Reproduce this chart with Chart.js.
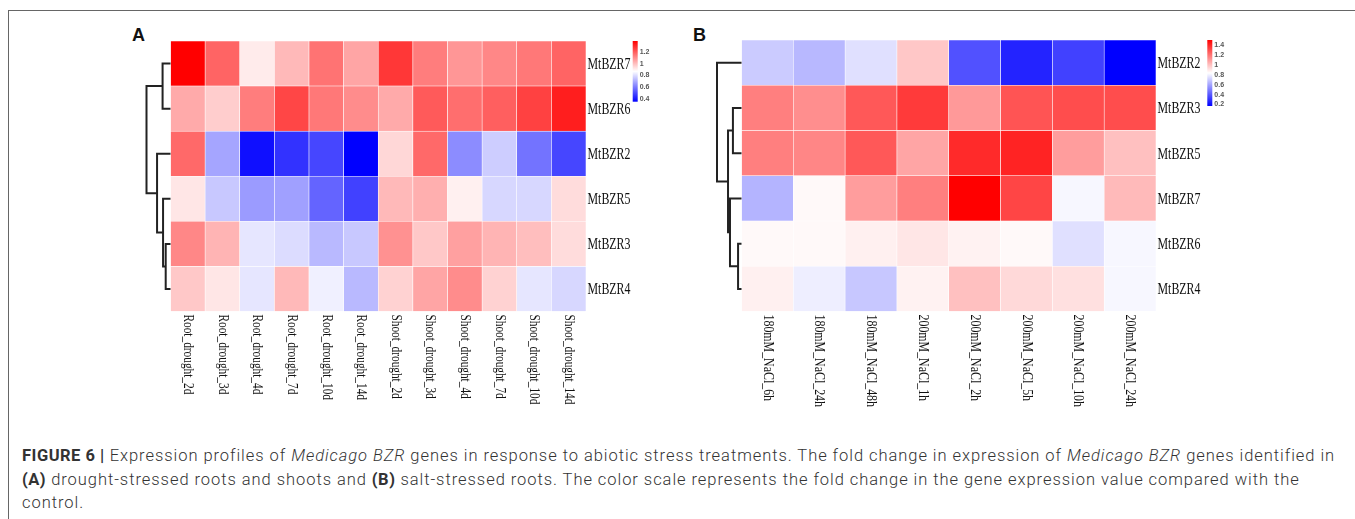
<!DOCTYPE html>
<html>
<head>
<meta charset="utf-8">
<script src="https://cdn.jsdelivr.net/npm/chart.js@4.4.0/dist/chart.umd.min.js"></script>
<style>
  html, body { margin: 0; padding: 0; background: #fff; width: 1355px; height: 519px; overflow: hidden; }
  .frame { position: absolute; left: 8px; top: 10px; width: 1400px; height: 600px; border-top: 1px solid #666; border-left: 1px solid #666; }
  .letter { position: absolute; font-family: "Liberation Sans", Arial, sans-serif; font-weight: bold; font-size: 18px; color: #111; }
  canvas { position: absolute; }
  .caption { position: absolute; left: 22px; top: 444px; font-family: Roboto, "Liberation Sans", sans-serif; font-weight: 300; font-size: 16.5px; letter-spacing: 0.95px; line-height: 23.5px; color: #333; white-space: nowrap; }
  .caption b { font-weight: 700; letter-spacing: 0.5px; }
</style>
</head>
<body>
<div class="frame"></div>
<div class="letter" style="left:132px;top:25px">A</div>
<div class="letter" style="left:693px;top:25px">B</div>
<canvas id="chartA" width="600" height="420" style="left:100px;top:0"></canvas>
<canvas id="chartB" width="620" height="420" style="left:690px;top:0"></canvas>
<div class="caption"><b>FIGURE 6 |</b> Expression profiles of <i>Medicago BZR</i> genes in response to abiotic stress treatments. The fold change in expression of <i>Medicago BZR</i> genes identified in<br><b>(A)</b> drought-stressed roots and shoots and <b>(B)</b> salt-stressed roots. The color scale represents the fold change in the gene expression value compared with the<br>control.</div>
<script>
// panel A - drought
const genesA = ["MtBZR7", "MtBZR6", "MtBZR2", "MtBZR5", "MtBZR3", "MtBZR4"];
const conditionsA = ["Root_drought_2d", "Root_drought_3d", "Root_drought_4d", "Root_drought_7d", "Root_drought_10d", "Root_drought_14d",
  "Shoot_drought_2d", "Shoot_drought_3d", "Shoot_drought_4d", "Shoot_drought_7d", "Shoot_drought_10d", "Shoot_drought_14d"];
const valuesA = [
  [1.38, 1.18, 0.91, 1.01, 1.15, 1.05, 1.27, 1.13, 1.08, 1.11, 1.14, 1.18],
  [1.04, 0.97, 1.13, 1.24, 1.14, 1.10, 1.04, 1.20, 1.16, 1.19, 1.25, 1.32],
  [1.17, 0.69, 0.39, 0.46, 0.50, 0.36, 0.95, 1.17, 0.64, 0.77, 0.59, 0.50],
  [0.92, 0.76, 0.67, 0.68, 0.56, 0.49, 1.01, 1.03, 0.90, 0.79, 0.79, 0.94],
  [1.11, 1.02, 0.82, 0.80, 0.73, 0.76, 1.09, 0.98, 1.06, 1.02, 1.00, 0.94],
  [0.98, 0.92, 0.82, 1.01, 0.84, 0.73, 0.96, 1.05, 1.10, 0.96, 0.82, 0.79],
];
const rangeA = [0.36, 1.38];
const colorTicksA = [1.2, 1, 0.8, 0.6, 0.4];
// [child, child, height] - leaves are row indexes, new nodes follow
const treeA = [[4, 5, 0.20], [3, 6, 0.31], [0, 1, 0.33], [2, 7, 0.56], [8, 9, 1.0]];

// panel B - salt
const genesB = ["MtBZR2", "MtBZR3", "MtBZR5", "MtBZR7", "MtBZR6", "MtBZR4"];
const conditionsB = ["180mM_NaCl_6h", "180mM_NaCl_24h", "180mM_NaCl_48h", "200mM_NaCl_1h",
  "200mM_NaCl_2h", "200mM_NaCl_5h", "200mM_NaCl_10h", "200mM_NaCl_24h"];
const valuesB = [
  [0.70, 0.65, 0.755, 0.98, 0.38, 0.26, 0.34, 0.17],
  [1.17, 1.13, 1.27, 1.35, 1.10, 1.28, 1.30, 1.30],
  [1.17, 1.15, 1.27, 1.07, 1.39, 1.41, 1.09, 1.00],
  [0.64, 0.85, 1.09, 1.17, 1.50, 1.32, 0.815, 1.015],
  [0.85, 0.85, 0.875, 0.90, 0.87, 0.85, 0.755, 0.815],
  [0.875, 0.79, 0.69, 0.87, 1.00, 0.935, 0.915, 0.815],
];
const rangeB = [0.17, 1.5];
const colorTicksB = [1.4, 1.2, 1, 0.8, 0.6, 0.4, 0.2];
const treeB = [[4, 5, 0.14], [1, 2, 0.35], [3, 6, 0.47], [7, 8, 0.55], [0, 9, 1.0]];

function colorFor(v, lo, hi) {
  const mid = (lo + hi) / 2;
  if (v >= mid) {
    const t = Math.min(1, (v - mid) / (hi - mid));
    const c = Math.round(255 * (1 - t));
    return `rgb(255,${c},${c})`;
  }
  const s = Math.min(1, (mid - v) / (mid - lo));
  const c = Math.round(255 * (1 - s));
  return `rgb(${c},${c},255)`;
}

const heatDecor = {
  id: "heatDecor",
  afterDraw(chart, args, o) {
    const ctx = chart.ctx;
    const area = chart.chartArea;
    const n = o.genes.length;
    const rowY = (i) => chart.scales.y.getPixelForValue(n - i - 0.5);

    // dendrogram
    const nodes = o.genes.map((g, i) => ({ x: area.left, y: rowY(i) }));
    ctx.save();
    ctx.strokeStyle = "#222";
    ctx.lineWidth = 2;
    o.tree.forEach((m) => {
      const a = nodes[m[0]], b = nodes[m[1]];
      const x = area.left - m[2] * o.treeWidth;
      ctx.beginPath();
      ctx.moveTo(a.x, a.y);
      ctx.lineTo(x, a.y);
      ctx.lineTo(x, b.y);
      ctx.lineTo(b.x, b.y);
      ctx.stroke();
      nodes.push({ x: x, y: (a.y + b.y) / 2 });
    });
    ctx.restore();

    // row labels
    ctx.save();
    ctx.fillStyle = "#111";
    ctx.font = "17px 'Liberation Serif', 'Times New Roman', serif";
    ctx.textBaseline = "middle";
    o.genes.forEach((g, i) => {
      ctx.save();
      ctx.translate(area.right + 1.5, rowY(i) + 1);
      ctx.scale(0.7, 1);
      ctx.fillText(g, 0, 0);
      ctx.restore();
    });

    // column labels, rotated to read downwards
    ctx.font = "14.5px 'Liberation Serif', 'Times New Roman', serif";
    o.conditions.forEach((c, i) => {
      ctx.save();
      ctx.translate(chart.scales.x.getPixelForValue(i), area.bottom + 3);
      ctx.rotate(Math.PI / 2);
      ctx.scale(o.colScale, 1);
      ctx.fillText(c, 0, 0);
      ctx.restore();
    });
    ctx.restore();

    // colour key
    const lo = o.range[0], hi = o.range[1];
    const bx = area.right + o.barDx, top = area.top, bottom = o.barBottom;
    const grad = ctx.createLinearGradient(0, top, 0, bottom);
    grad.addColorStop(0, colorFor(hi, lo, hi));
    grad.addColorStop(0.5, "#fff");
    grad.addColorStop(1, colorFor(lo, lo, hi));
    ctx.save();
    ctx.fillStyle = grad;
    ctx.fillRect(bx, top, 5, bottom - top);
    ctx.fillStyle = "#555";
    ctx.font = "bold 7px 'Liberation Sans', Arial, sans-serif";
    ctx.textBaseline = "middle";
    o.ticks.forEach((t) => {
      const y = top + ((hi - t) / (hi - lo)) * (bottom - top);
      ctx.fillText(String(t), bx + 7, y);
    });
    ctx.restore();
  },
};

function makeHeatmap(id, genes, conditions, values, range, ticks, tree, extra) {
  const datasets = [];
  for (let i = genes.length - 1; i >= 0; i--) {
    datasets.push({
      label: genes[i],
      data: conditions.map(() => 1),
      backgroundColor: values[i].map((v) => colorFor(v, range[0], range[1])),
      borderColor: "rgba(255,255,255,0.8)",
      borderWidth: 0.6,
      borderSkipped: false,
      barPercentage: 1,
      categoryPercentage: 1,
    });
  }
  return new Chart(document.getElementById(id), {
    type: "bar",
    data: { labels: conditions, datasets: datasets },
    options: {
      responsive: false,
      animation: false,
      layout: { padding: extra.padding },
      scales: {
        x: { stacked: true, display: false },
        y: { stacked: true, display: false, min: 0, max: genes.length },
      },
      plugins: {
        legend: { display: false },
        tooltip: { enabled: false },
        heatDecor: {
          genes: genes,
          conditions: conditions,
          tree: tree,
          range: range,
          ticks: ticks,
          treeWidth: extra.treeWidth,
          colScale: extra.colScale,
          barDx: extra.barDx,
          barBottom: extra.barBottom,
        },
      },
    },
    plugins: [heatDecor],
  });
}

makeHeatmap("chartA", genesA, conditionsA, valuesA, rangeA, colorTicksA, treeA, {
  padding: { left: 70.5, right: 114, top: 41, bottom: 108.5 },
  treeWidth: 24,
  colScale: 0.78,
  barDx: 46.7,
  barBottom: 101.7,
});

makeHeatmap("chartB", genesB, conditionsB, valuesB, rangeB, colorTicksB, treeB, {
  padding: { left: 51.5, right: 154, top: 40, bottom: 108.5 },
  treeWidth: 24.5,
  colScale: 0.82,
  barDx: 51.3,
  barBottom: 106,
});
</script>
</body>
</html>
